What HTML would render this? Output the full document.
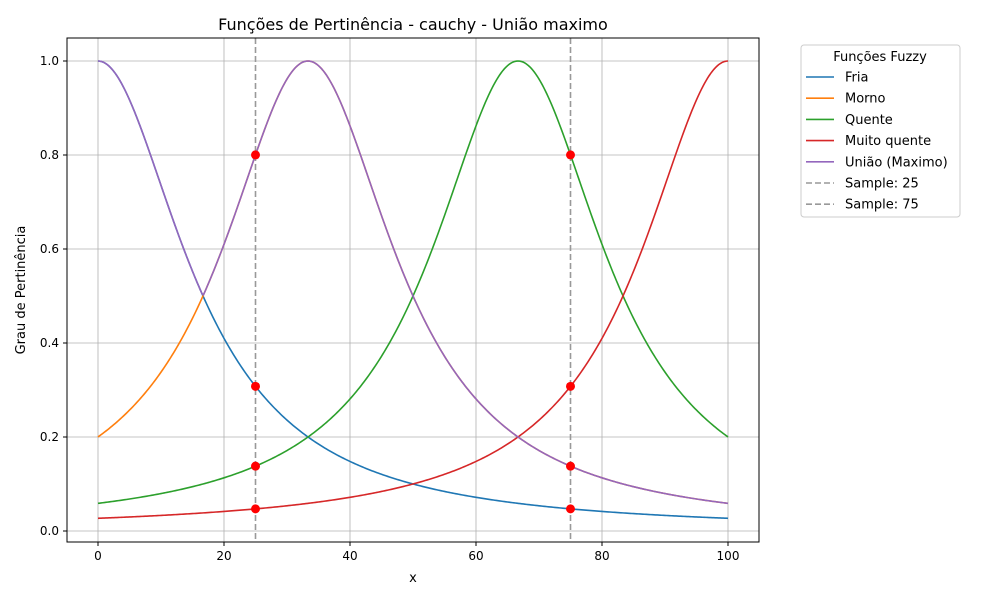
<!DOCTYPE html>
<html><head><meta charset="utf-8"><style>
body{margin:0;background:#fff;font-family:"Liberation Sans","DejaVu Sans",sans-serif}
</style></head><body>
<svg id="chart" width="1000" height="600" xmlns="http://www.w3.org/2000/svg" font-family="DejaVu Sans, Liberation Sans, sans-serif">
<rect width="1000" height="600" fill="#fff"/>
<text x="413" y="30" font-size="16" text-anchor="middle">Funções de Pertinência - cauchy - União maximo</text>
<g id="grid"></g>
<g id="series"></g>
<g id="axes"></g>
<text x="413" y="582" font-size="13" text-anchor="middle">x</text>
<text transform="translate(25,290) rotate(-90)" font-size="13" text-anchor="middle">Grau de Pertinência</text>
<g id="legend"></g>
</svg>
<script>
const seriesNames=["Fria","Morno","Quente","Muito quente"];
const seriesColors=["#1f77b4","#ff7f0e","#2ca02c","#d62728"];
const centers=[0,33.33,66.67,100];
const widths=[16.67,16.67,16.67,16.67];
const slopes=[1,1,1,1];
const unionMembers=[0,1];
const samples=[25,75];
const xTicks=[0,20,40,60,80,100];
const yTicks=[0,0.2,0.4,0.6,0.8,1.0];
const X0=67,X1=759,Y0=38,Y1=542;
const sx=v=>98+v*6.3, sy=v=>531-v*470;
const NS="http://www.w3.org/2000/svg";
function mk(tag,attrs,parent){const e=document.createElementNS(NS,tag);for(const k in attrs)e.setAttribute(k,attrs[k]);parent.appendChild(e);return e;}
const mf=(i,x)=>1/(1+Math.pow(Math.abs((x-centers[i])/widths[i]),2*slopes[i]));
const grid=document.getElementById('grid'),axes=document.getElementById('axes'),ser=document.getElementById('series'),leg=document.getElementById('legend');
xTicks.forEach(t=>{const l=mk('line',{x1:sx(t),x2:sx(t),y1:Y0,y2:Y1,stroke:'#b0b0b0','stroke-width':0.8},grid);

mk('line',{x1:sx(t),x2:sx(t),y1:Y1,y2:Y1+4,stroke:'#000'},axes);
const tx=mk('text',{x:sx(t),y:Y1+18,'font-size':12,'text-anchor':'middle'},axes);tx.textContent=t;
});
yTicks.forEach(t=>{const l=mk('line',{x1:X0,x2:X1,y1:sy(t),y2:sy(t),stroke:'#b0b0b0','stroke-width':0.8},grid);

mk('line',{x1:X0-4,x2:X0,y1:sy(t),y2:sy(t),stroke:'#000'},axes);
const tx=mk('text',{x:X0-8,y:sy(t)+4,'font-size':12,'text-anchor':'end'},axes);tx.textContent=t.toFixed(1);
});
const fr=mk('rect',{x:X0,y:Y0,width:X1-X0,height:Y1-Y0,fill:'none',stroke:'#000','stroke-width':1},axes);

const N=400;
function path(f){let d='';for(let k=0;k<=N;k++){const x=100*k/N;d+=(k?'L':'M')+sx(x).toFixed(2)+','+sy(f(x)).toFixed(2);}return d;}
seriesNames.forEach((n,i)=>{const p=mk('path',{d:path(x=>mf(i,x)),fill:'none',stroke:seriesColors[i],'stroke-width':1.6},ser);
});
const u=mk('path',{d:path(x=>Math.max(...unionMembers.map(i=>mf(i,x)))),fill:'none',stroke:'#9467bd','stroke-width':1.6},ser);

samples.forEach(s=>{const l=mk('line',{x1:sx(s),x2:sx(s),y1:Y0,y2:Y1,stroke:'#999','stroke-width':1.6,'stroke-dasharray':'6,3'},ser);

seriesNames.forEach((_,i)=>{const c=mk('circle',{cx:sx(s),cy:sy(mf(i,s)),r:4.5,fill:'red'},ser);
});});
const lb=mk('rect',{x:801,y:45,width:159,height:172,rx:3,fill:'#fff',stroke:'#ccc'},leg);

const lt=mk('text',{x:880,y:61,'font-size':13,'text-anchor':'middle'},leg);lt.textContent='Funções Fuzzy';

const entries=seriesNames.map((n,i)=>[n,seriesColors[i],false]).concat([['União (Maximo)','#9467bd',false],['Sample: 25','#999',true],['Sample: 75','#999',true]]);
entries.forEach((e,k)=>{const y=77+k*21.2;const g=mk('g',{},leg);

const a={x1:806,x2:834,y1:y,y2:y,stroke:e[1],'stroke-width':1.6};if(e[2])a['stroke-dasharray']='6,3';mk('line',a,g);
const t=mk('text',{x:845,y:y+4.5,'font-size':13},g);t.textContent=e[0];});
</script>
</body></html>
